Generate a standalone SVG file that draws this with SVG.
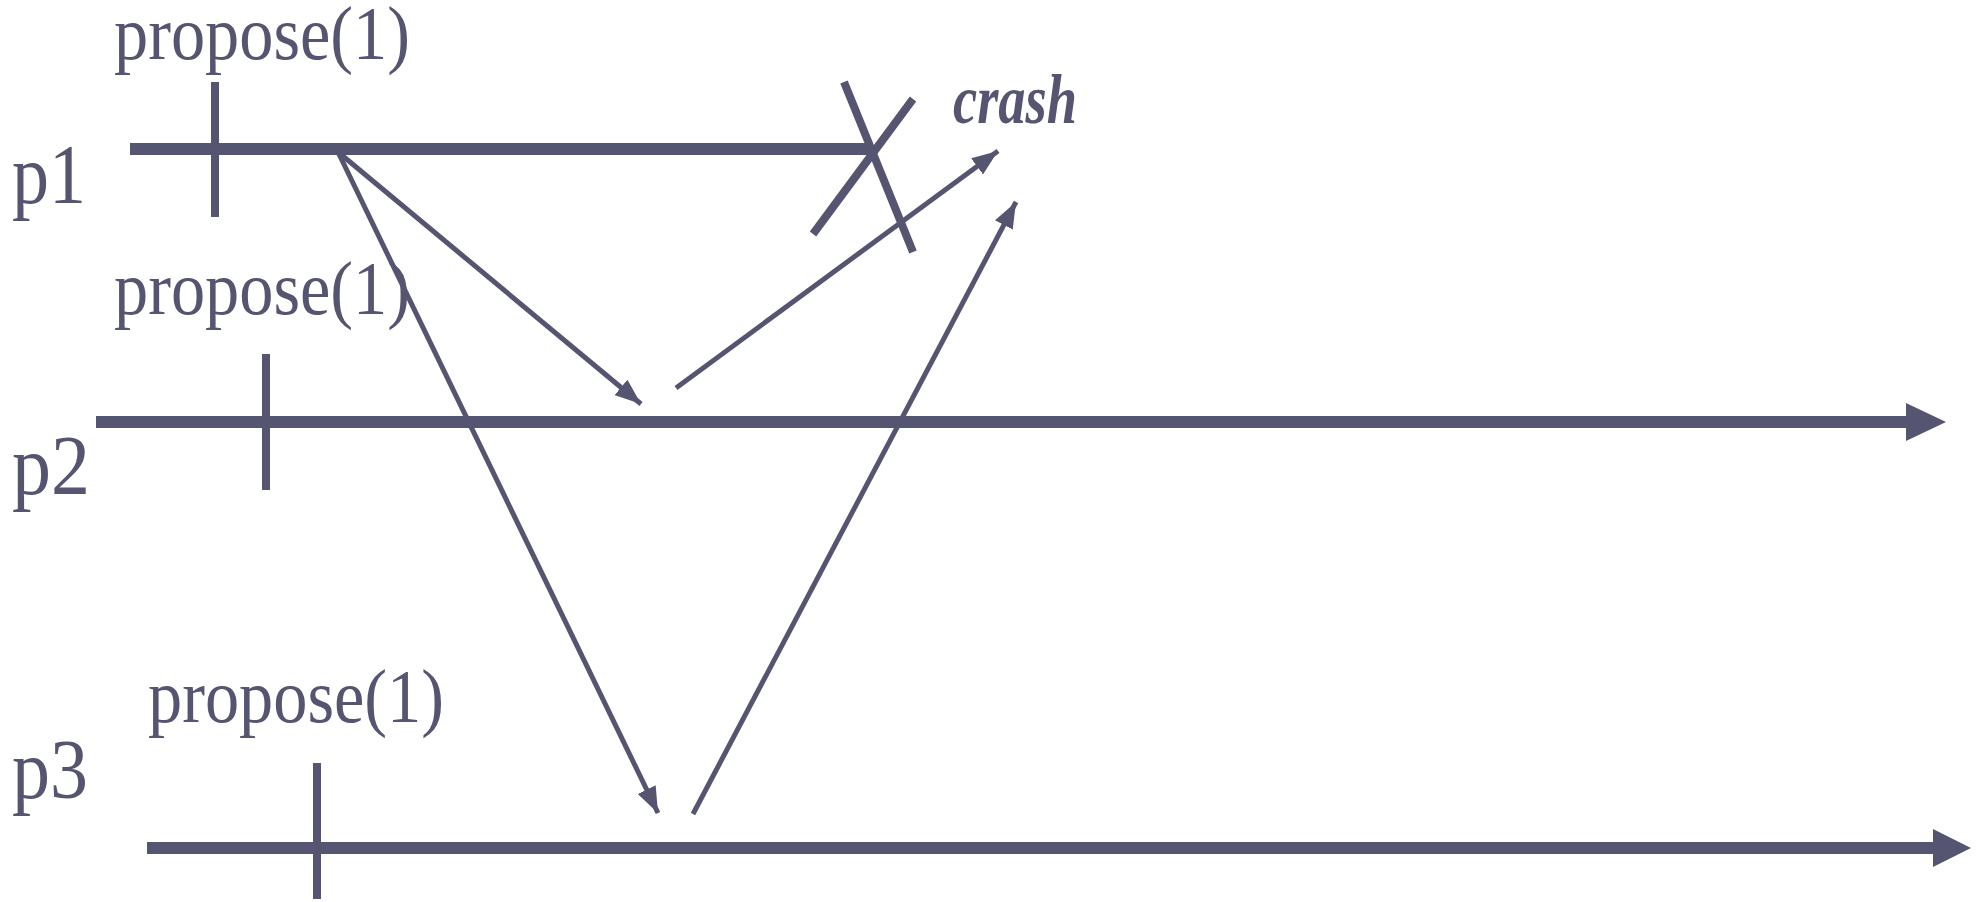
<svg xmlns="http://www.w3.org/2000/svg" width="1981" height="902" viewBox="0 0 1981 902">
<style>
.lbl{font-family:"Liberation Serif","Times New Roman",serif;fill:#555571;}
.prop{font-size:76px;}
.proc{font-size:84px;}
.crash{font-size:70px;font-weight:bold;font-style:italic;}
.tl{stroke:#555571;stroke-width:12;fill:none;}
.tick{stroke:#555571;stroke-width:8;fill:none;}
.msg{stroke:#555571;stroke-width:5;fill:none;marker-end:url(#ah);}
.x{stroke:#555571;stroke-width:8;fill:none;}
.head{fill:#555571;}
</style>
<defs>
<marker id="ah" markerUnits="userSpaceOnUse" markerWidth="26" markerHeight="20" viewBox="0 0 26 20" refX="26" refY="10" orient="auto">
<path d="M0,0 L26,10 L0,20 z" fill="#555571"/>
</marker>
</defs>
<rect width="1981" height="902" fill="#ffffff"/>
<g id="p1">
<text class="lbl proc" x="12" y="203" textLength="74" lengthAdjust="spacingAndGlyphs">p1</text>
<text class="lbl prop" x="114" y="59" textLength="296" lengthAdjust="spacingAndGlyphs">propose(1)</text>
<line class="tl" x1="130" y1="149" x2="873" y2="149"/>
<line class="tick" x1="215" y1="82" x2="215" y2="217"/>
</g>
<g id="crash">
<line class="x" x1="844" y1="82" x2="913" y2="252"/>
<line class="x" x1="913" y1="99" x2="813" y2="234"/>
<text class="lbl crash" x="953" y="123" textLength="124" lengthAdjust="spacingAndGlyphs">crash</text>
</g>
<g id="p2">
<text class="lbl proc" x="12" y="494" textLength="78" lengthAdjust="spacingAndGlyphs">p2</text>
<text class="lbl prop" x="114" y="314" textLength="296" lengthAdjust="spacingAndGlyphs">propose(1)</text>
<line class="tl" x1="96" y1="422" x2="1908" y2="422"/>
<polygon class="head" points="1906,403 1946,422 1906,441"/>
<line class="tick" x1="266" y1="354" x2="266" y2="490"/>
</g>
<g id="p3">
<text class="lbl proc" x="12" y="798" textLength="76" lengthAdjust="spacingAndGlyphs">p3</text>
<text class="lbl prop" x="148" y="722" textLength="296" lengthAdjust="spacingAndGlyphs">propose(1)</text>
<line class="tl" x1="147" y1="848" x2="1935" y2="848"/>
<polygon class="head" points="1933,829 1971,848 1933,867"/>
<line class="tick" x1="317" y1="763" x2="317" y2="899"/>
</g>
<g id="connectors">
<line class="msg" x1="338" y1="152" x2="641" y2="404"/>
<line class="msg" x1="338" y1="152" x2="658" y2="813"/>
<line class="msg" x1="676" y1="388" x2="998" y2="151"/>
<line class="msg" x1="693" y1="814" x2="1016" y2="202"/>
</g>
</svg>
